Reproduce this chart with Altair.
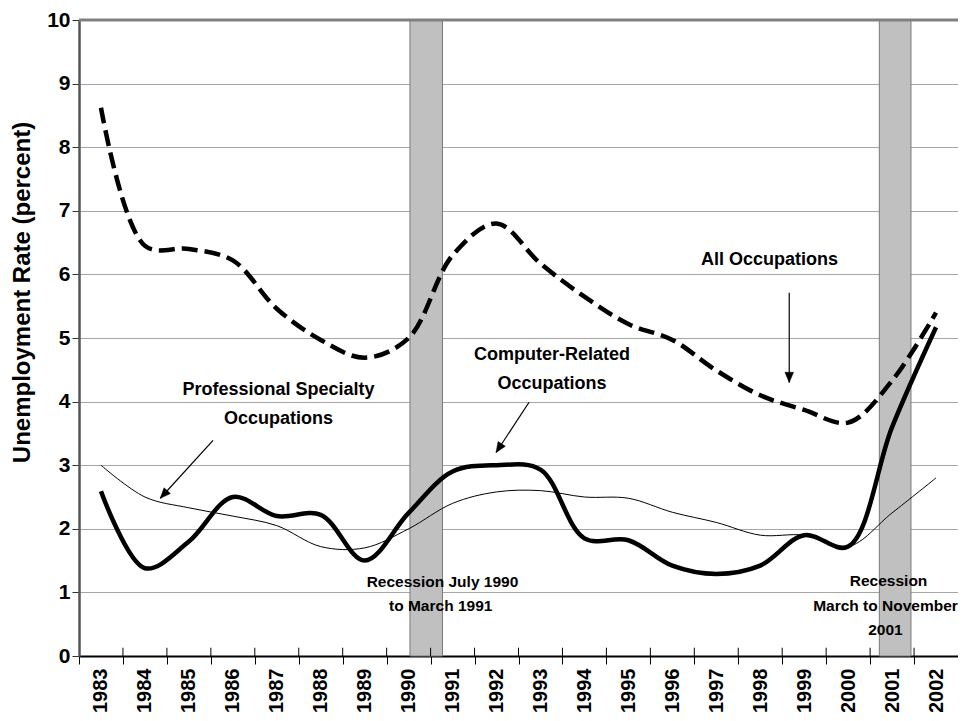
import math
import altair as alt
import pandas as pd

# ---------------- data ----------------
years = list(range(1983, 2003))
all_occupations = [8.62, 6.45, 6.40, 6.22, 5.46, 4.97, 4.69, 5.00, 6.30, 6.80,
                   6.17, 5.65, 5.22, 4.97, 4.49, 4.10, 3.87, 3.67, 4.33, 5.40]
computer_related = [2.59, 1.38, 1.80, 2.50, 2.20, 2.22, 1.50, 2.25, 2.90, 3.00,
                    2.93, 1.85, 1.82, 1.42, 1.29, 1.42, 1.90, 1.72, 3.60, 5.17]
professional = [3.00, 2.50, 2.33, 2.20, 2.05, 1.72, 1.70, 2.00, 2.40, 2.58,
                2.60, 2.50, 2.48, 2.26, 2.10, 1.90, 1.90, 1.72, 2.25, 2.80]

# recessions (fractional years)
rec_start = [1990.53, 2001.21]
rec_end = [1991.27, 2001.93]

# arrows (data coordinates: tail -> tip)
arrow_x1 = [1999.16, 1993.24, 1986.05]
arrow_y1 = [5.71, 3.99, 3.39]
arrow_x2 = [1999.16, 1992.49, 1984.85]
arrow_y2 = [4.30, 3.20, 2.48]

# annotation labels
big_labels = ["All Occupations", "Computer-Related", "Occupations",
              "Professional Specialty", "Occupations"]
big_x = [1998.71, 1993.76, 1993.76, 1987.54, 1987.54]
big_y = [6.22, 4.73, 4.27, 4.18, 3.72]

small_labels = ["Recession July  1990", "to March 1991",
                "Recession", "March to November", "2001"]
small_x = [1991.27, 1991.23, 2001.42, 2001.35, 2001.35]
small_y = [1.16, 0.785, 1.18, 0.785, 0.41]

tick_years = list(range(1983, 2004))

# ---------------- layout ----------------
W, H = 879, 636
PAD_L, PAD_T = 71, 12
px_per_year = W / 20.0
px_per_unit = H / 10.0

REG = "Liberation Sans, Arial, sans-serif"

x_scale = alt.Scale(domain=[1983, 2003], nice=False, zero=False)
y_scale = alt.Scale(domain=[0, 10], nice=False)

# ---------------- tables ----------------
lines_df = pd.DataFrame({
    "x": [y + 0.5 for y in years],
    "all": all_occupations,
    "comp": computer_related,
    "prof": professional,
})
rec_df = pd.DataFrame({"s": rec_start, "e": rec_end, "y0": [0, 0], "y1": [10, 10]})
ang = []
for a, b, c, d in zip(arrow_x1, arrow_y1, arrow_x2, arrow_y2):
    dx = (c - a) * px_per_year
    dy = -(d - b) * px_per_unit
    ang.append((math.degrees(math.atan2(dx, -dy)) + 360) % 360)
arr_df = pd.DataFrame({"x1": arrow_x1, "y1": arrow_y1, "x2": arrow_x2,
                       "y2": arrow_y2, "angle": ang})
big_df = pd.DataFrame({"t": big_labels, "x": big_x, "y": big_y})
small_df = pd.DataFrame({"t": small_labels, "x": small_x, "y": small_y})
tick_df = pd.DataFrame({"x": tick_years[1:-1], "y0": 0.0, "y1": 0.13})
top_df = pd.DataFrame({"y": [10]})

x_axis = alt.Axis(
    values=tick_years, format="d", labelAngle=-90, labelOffset=px_per_year / 2,
    labelExpr="datum.value == 2003 ? '' : datum.label",
    labelFont=REG, labelFontSize=20, labelFontWeight="bold", labelColor="black",
    labelPadding=4, labelFlush=False, labelOverlap=False, labelBound=False,
    tickSize=8, tickColor="black", tickWidth=1,
    domainColor="black", domainWidth=2, grid=False, title=None,
)
y_axis = alt.Axis(
    values=list(range(0, 11)), format="d", labelFont=REG, labelFontSize=21,
    labelFontWeight="bold", labelColor="black", labelPadding=2,
    tickSize=7, tickColor="#333333", tickWidth=1,
    domainColor="#555555", domainWidth=2.5,
    grid=True, gridColor="#a6a6a6", gridWidth=1,
    title="Unemployment Rate (percent)", titleFont=REG, titleFontSize=24,
    titleFontWeight="bold", titleColor="black", titleAngle=270,
    titleAlign="center", titleBaseline="middle", titleX=-57, titleY=272,
)

base = alt.Chart(lines_df)

rec = alt.Chart(rec_df).mark_rect(fill="#c0c0c0", stroke="#7a7a7a", strokeWidth=1).encode(
    x=alt.X("s:Q", scale=x_scale, axis=x_axis),
    x2="e:Q",
    y=alt.Y("y0:Q", scale=y_scale, axis=y_axis),
    y2="y1:Q",
)

inner_ticks = alt.Chart(tick_df).mark_rule(color="black", strokeWidth=1).encode(
    x=alt.X("x:Q", scale=x_scale), y=alt.Y("y0:Q", scale=y_scale), y2="y1:Q")

top_rule = alt.Chart(top_df).mark_rule(color="#808080", strokeWidth=3).encode(
    y=alt.Y("y:Q", scale=y_scale))

prof_line = base.mark_line(color="black", strokeWidth=1, interpolate="catmull-rom").encode(
    x=alt.X("x:Q", scale=x_scale), y=alt.Y("prof:Q", scale=y_scale))
comp_line = base.mark_line(color="black", strokeWidth=4.5, interpolate="catmull-rom").encode(
    x=alt.X("x:Q", scale=x_scale), y=alt.Y("comp:Q", scale=y_scale))
all_line = base.mark_line(color="black", strokeWidth=4.5, strokeDash=[16, 7],
                          interpolate="catmull-rom").encode(
    x=alt.X("x:Q", scale=x_scale), y=alt.Y("all:Q", scale=y_scale))

arrows = alt.Chart(arr_df).mark_rule(color="black", strokeWidth=1.2).encode(
    x=alt.X("x1:Q", scale=x_scale), y=alt.Y("y1:Q", scale=y_scale),
    x2="x2:Q", y2="y2:Q")
heads = alt.Chart(arr_df).mark_point(
    shape="M0,0L-0.42,1L0.42,1Z", filled=True, fill="black", stroke="black",
    strokeWidth=0.5, size=420, opacity=1).encode(
    x=alt.X("x2:Q", scale=x_scale), y=alt.Y("y2:Q", scale=y_scale),
    angle=alt.Angle("angle:Q", scale=None))

big_text = alt.Chart(big_df).mark_text(
    font=REG, fontSize=18, fontWeight="bold", color="black",
    align="center", baseline="middle").encode(
    x=alt.X("x:Q", scale=x_scale), y=alt.Y("y:Q", scale=y_scale), text="t:N")
small_text = alt.Chart(small_df).mark_text(
    font=REG, fontSize=15.5, fontWeight="bold", color="black",
    align="center", baseline="middle").encode(
    x=alt.X("x:Q", scale=x_scale), y=alt.Y("y:Q", scale=y_scale), text="t:N")

chart = alt.layer(
    rec, inner_ticks, top_rule, prof_line, comp_line, all_line,
    arrows, heads, big_text, small_text,
).properties(
    width=W, height=H,
    autosize=alt.AutoSizeParams(type="none"),
    padding={"left": PAD_L, "top": PAD_T, "right": 0, "bottom": 56},
).configure_view(stroke="#909090", strokeWidth=1).configure(background="white")

chart.save("out.html", embed_options={"renderer": "svg", "actions": False})
